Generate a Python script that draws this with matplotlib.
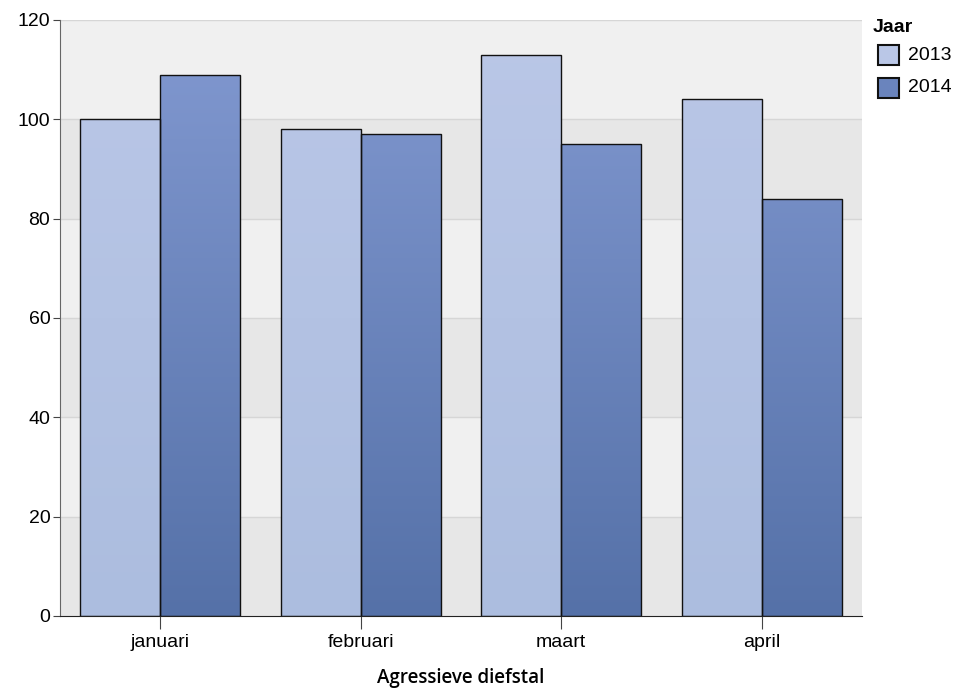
import matplotlib.pyplot as plt
import numpy as np
from matplotlib.patches import Rectangle
from matplotlib.colors import LinearSegmentedColormap

plt.rcParams['font.family'] = ['Liberation Sans', 'DejaVu Sans']

# data
months = ['januari', 'februari', 'maart', 'april']
years = ['2013', '2014']
values_2013 = [100, 98, 113, 104]
values_2014 = [109, 97, 95, 84]

# gradient colours (top, bottom) per series
grad_2013 = ('#bac7e7', '#acbddf')
grad_2014 = ('#8299d1', '#5571a8')

W, H = 959, 688
fig = plt.figure(figsize=(W / 100, H / 100), dpi=100)
ax = fig.add_axes([60 / W, 72 / H, 802 / W, 596 / H])

ymax = 120
ax.set_xlim(-0.5, len(months) - 0.5)
ax.set_ylim(0, ymax)

# alternating background bands
for i, lo in enumerate(range(0, ymax, 20)):
    c = '#e7e7e7' if i % 2 == 0 else '#f0f0f0'
    ax.axhspan(lo, lo + 20, color=c, zorder=0, lw=0)
for y in range(20, ymax + 1, 20):
    ax.axhline(y, color='#d6d6d6', lw=1, zorder=0.5)

bar_w = 0.4
x = np.arange(len(months))


def grad_bars(xs, vals, colors):
    cmap = LinearSegmentedColormap.from_list('g', [colors[1], colors[0]])
    for xi, v in zip(xs, vals):
        rect = Rectangle((xi - bar_w / 2, 0), bar_w, v, facecolor='none',
                         edgecolor='#111111', lw=1, zorder=3)
        ax.add_patch(rect)
        grad = np.linspace(0, 1, 256).reshape(-1, 1)
        im = ax.imshow(grad, cmap=cmap, origin='lower', aspect='auto',
                       extent=[xi - bar_w / 2, xi + bar_w / 2, 0, ymax],
                       zorder=2)
        clip = Rectangle((xi - bar_w / 2, 0), bar_w, v, transform=ax.transData)
        im.set_clip_path(clip)


grad_bars(x - bar_w / 2, values_2013, grad_2013)
grad_bars(x + bar_w / 2, values_2014, grad_2014)
ax.set_xlim(-0.5, len(months) - 0.5)
ax.set_ylim(0, ymax)

ax.set_xticks(x)
ax.set_xticklabels(months, fontsize=14)
ax.set_yticks(range(0, ymax + 1, 20))
ax.tick_params(axis='y', labelsize=14, length=5, color='#444444', pad=2)
ax.tick_params(axis='x', length=9, color='#444444', pad=4)
ax.set_xlabel('Agressieve diefstal', fontsize=13.5, labelpad=12,
              family=['Open Sans', 'DejaVu Sans'], fontweight='semibold')

for s in ['top', 'right']:
    ax.spines[s].set_visible(False)
ax.spines['left'].set_color('#666666')
ax.spines['bottom'].set_color('#222222')

# legend, drawn by hand in pixel positions
fig.text(873 / W, 1 - 27 / H, 'Jaar', fontsize=14, fontweight='bold',
         ha='left', va='center')
leg_colors = [grad_2013[0], '#6a84bd']
for i, (yr, c) in enumerate(zip(years, leg_colors)):
    top = 45 + i * 33
    fig.patches.append(Rectangle((878 / W, 1 - (top + 20) / H), 21 / W, 20 / H,
                                 transform=fig.transFigure, facecolor=c,
                                 edgecolor='#111111', lw=1.5))
    fig.text(908 / W, 1 - (top + 10) / H, yr, fontsize=14,
             ha='left', va='center')

fig.savefig('out.png', dpi=100)
